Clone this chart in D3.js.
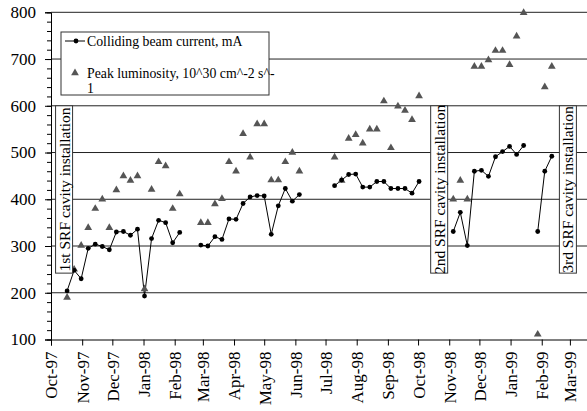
<!DOCTYPE html>
<html>
<head>
<meta charset="utf-8">
<script src="https://cdn.jsdelivr.net/npm/d3@7"></script>
<style>
  body { margin: 0; background: #fff; }
  svg { display: block; font-family: "Liberation Serif", "Times New Roman", serif; }
</style>
</head>
<body>
<svg id="chart" width="587" height="411"></svg>
<script>
// weekly readings, null = no run that week
const dates = [
  "1997-10-17","1997-10-24","1997-10-31","1997-11-07","1997-11-14","1997-11-21","1997-11-28",
  "1997-12-05","1997-12-12","1997-12-19","1997-12-26","1998-01-02","1998-01-09","1998-01-16",
  "1998-01-23","1998-01-30","1998-02-06","1998-02-13",
  "1998-02-27","1998-03-06","1998-03-13","1998-03-20","1998-03-27","1998-04-03","1998-04-10",
  "1998-04-17","1998-04-24","1998-05-01","1998-05-08","1998-05-15","1998-05-22","1998-05-29",
  "1998-06-05","1998-06-12",
  "1998-07-10","1998-07-17","1998-07-24","1998-07-31","1998-08-07","1998-08-14","1998-08-21",
  "1998-08-28","1998-09-04","1998-09-11","1998-09-18","1998-09-25","1998-10-02","1998-10-09",
  "1998-11-05","1998-11-12","1998-11-19","1998-11-26","1998-12-03","1998-12-10","1998-12-17",
  "1998-12-24","1998-12-31","1999-01-07","1999-01-14","1999-01-21",
  "1999-01-28","1999-02-04","1999-02-11"
];
const current = [
  204, 248, 230, 295, 304, 299, 292, 330, 331, 323, 336, 193, 316, 355, 350, 307, 329, null,
  302, 300, 320, 314, 358, 357, 391, 405, 408, 407, 325, 386, 423, 396, 410, null,
  429, 441, 453, 454, 426, 426, 438, 438, 423, 423, 423, 413, 438, null,
  331, 372, 301, 460, 462, 449, 491, 502, 513, 496, 515, null,
  331, 460, 492
];
const luminosity = [
  190, 250, 301, 339, 380, 400, 339, 420, 450, 440, 450, 208, 421, 480, 471, 380, 411, null,
  350, 350, 390, 401, 480, 460, 540, 490, 561, 561, 441, 441, 480, 500, 460, null,
  490, 440, 530, 538, 520, 550, 550, 610, 510, 599, 590, 570, 621, null,
  400, 440, 400, 684, 684, 698, 718, 718, 688, 749, 799, null,
  111, 640, 684
];
const yTicks = [100, 200, 300, 400, 500, 600, 700, 800];
const legendLabels = ["Colliding beam current, mA", "Peak luminosity, 10^30 cm^-2 s^-", "1"];
const noteLabels = ["1st SRF cavity installation", "2nd SRF cavity installation", "3rd SRF cavity installation"];
const noteDates = ["1997-10-14", "1998-10-22", "1999-02-27"];

const parse = d3.timeParse("%Y-%m-%d");
const rows = dates.map((d, i) => ({date: parse(d), cur: current[i], lum: luminosity[i]}));

const svg = d3.select("#chart");
const plotL = 51, plotR = 587, plotT = 12.3, plotB = 339.5;

const x = d3.scaleTime()
  .domain([new Date(1997, 9, 1), new Date(1999, 2, 18)])
  .range([plotL, plotR]);
const y = d3.scaleLinear().domain([100, 800]).range([plotB, plotT]);

/* grid lines */
svg.append("g")
  .selectAll("line")
  .data(yTicks.slice(1))
  .join("line")
  .attr("x1", plotL).attr("x2", plotR)
  .attr("y1", d => y(d)).attr("y2", d => y(d))
  .attr("stroke", "#222").attr("stroke-width", 1);

/* current line */
const line = d3.line()
  .defined(d => d.cur != null)
  .x(d => x(d.date)).y(d => y(d.cur));

svg.append("path")
  .datum(rows)
  .attr("d", line)
  .attr("fill", "none")
  .attr("stroke", "#000")
  .attr("stroke-width", 1);

/* luminosity triangles */
const tri = d3.symbol().type(d3.symbolTriangle).size(26);
svg.append("g")
  .selectAll("path")
  .data(rows.filter(d => d.lum != null))
  .join("path")
  .attr("d", tri)
  .attr("transform", d => `translate(${x(d.date)},${y(d.lum)})`)
  .attr("fill", "#555");

/* current dots */
svg.append("g")
  .selectAll("circle")
  .data(rows.filter(d => d.cur != null))
  .join("circle")
  .attr("cx", d => x(d.date)).attr("cy", d => y(d.cur))
  .attr("r", 2.4)
  .attr("fill", "#000");

/* installation notes */
const notes = svg.append("g");
noteLabels.forEach((t, i) => {
  const cx = x(parse(noteDates[i]));
  const y0 = y(600), y1 = y(242);
  notes.append("rect")
    .attr("x", cx - 8.5).attr("y", y0)
    .attr("width", 17).attr("height", y1 - y0)
    .attr("fill", "#fff").attr("stroke", "#333").attr("stroke-width", 1);
  notes.append("text")
    .attr("transform", `translate(${cx},${(y0 + y1) / 2}) rotate(-90)`)
    .attr("text-anchor", "middle")
    .attr("dy", "0.35em")
    .attr("font-size", 15.5)
    .text(t);
});

/* legend */
const lg = svg.append("g");
lg.append("rect")
  .attr("x", 61).attr("y", 32).attr("width", 208).attr("height", 63)
  .attr("fill", "#fff").attr("stroke", "#333").attr("stroke-width", 1);
lg.append("line").attr("x1", 65).attr("x2", 85).attr("y1", 41).attr("y2", 41)
  .attr("stroke", "#000");
lg.append("circle").attr("cx", 76).attr("cy", 41).attr("r", 2.4).attr("fill", "#000");
lg.append("path").attr("d", tri).attr("transform", "translate(75,73)").attr("fill", "#555");
lg.selectAll("text")
  .data(legendLabels)
  .join("text")
  .attr("x", 87)
  .attr("y", (d, i) => [41, 73, 88][i])
  .attr("dy", "0.35em")
  .attr("font-size", 13.8)
  .text(d => d);

/* axes */
const yAxis = svg.append("g")
  .attr("transform", `translate(${plotL},0)`)
  .call(d3.axisLeft(y).tickValues(yTicks).tickSize(6).tickPadding(9));
svg.append("g")
  .attr("transform", `translate(${plotL},0)`)
  .call(d3.axisLeft(y).tickValues(d3.range(100, 801, 20)).tickSize(4).tickFormat(""))
  .call(g => g.select(".domain").remove());

const xAxis = svg.append("g")
  .attr("transform", `translate(0,${plotB})`)
  .call(d3.axisBottom(x)
    .tickValues(d3.timeMonth.range(new Date(1997, 9, 1), new Date(1999, 2, 2)))
    .tickFormat(d3.timeFormat("%b-%y"))
    .tickSize(6));
xAxis.selectAll("text")
  .attr("transform", "rotate(-90)")
  .attr("text-anchor", "end")
  .attr("x", -12).attr("y", 0).attr("dy", "0.35em")
  .attr("font-size", 17);

[yAxis, xAxis].forEach(g => {
  g.selectAll("text").attr("fill", "#000").style("font-family", "'Liberation Serif', serif");
  g.selectAll("line, path").attr("stroke", "#000");
});
yAxis.selectAll("text").attr("font-size", 17);
</script>
</body>
</html>
